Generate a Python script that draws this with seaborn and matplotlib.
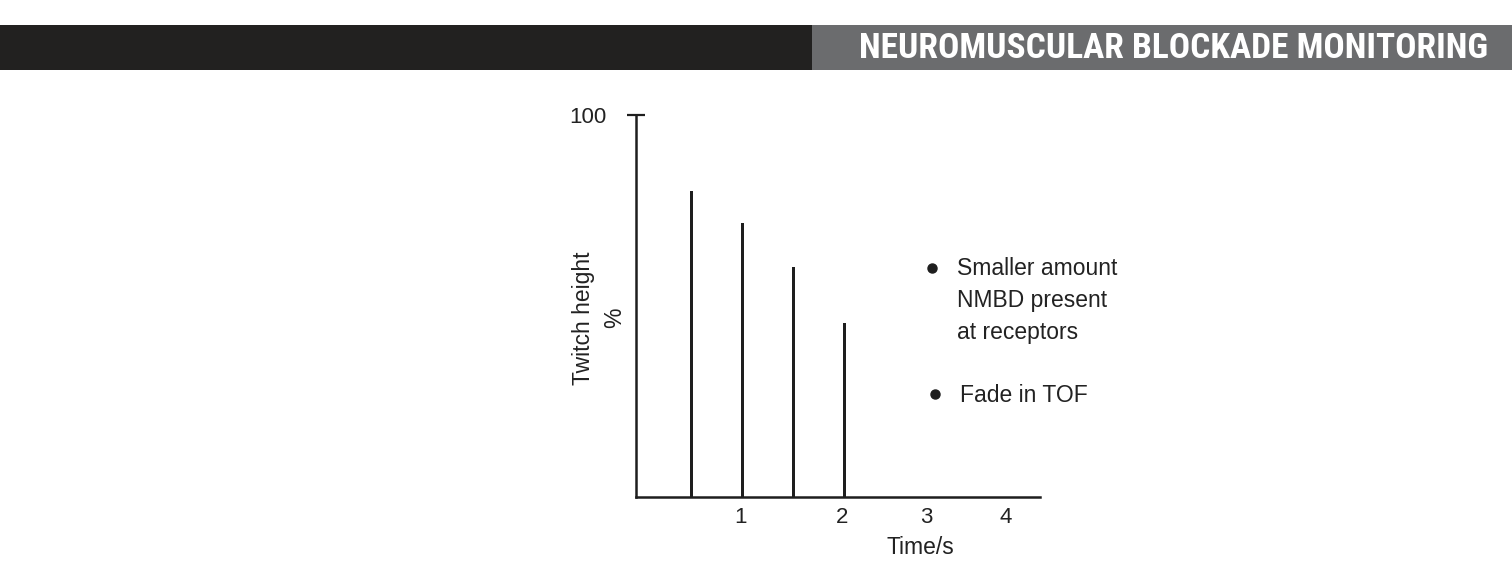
import matplotlib
matplotlib.use("Agg")
import matplotlib.pyplot as plt
from matplotlib.patches import Rectangle
from matplotlib.lines import Line2D
from matplotlib import font_manager
import seaborn as sns
import pandas as pd

# ---- data ----
stimulus_time = [0.5, 1.0, 1.5, 2.0]
twitch_height = [80.0, 71.7, 60.2, 45.5]
xtick_positions = [0.98, 1.97, 2.79, 3.57]
xtick_labels = ["1", "2", "3", "4"]
ytick_positions = [100]
ytick_labels = ["100"]
title = "NEUROMUSCULAR BLOCKADE MONITORING"
bullet_1 = "Smaller amount\nNMBD present\nat receptors"
bullet_2 = "Fade in TOF"
x_label = "Time/s"
y_label = "Twitch height\n%"

sns.set_theme(style="white")
plt.rcParams["font.family"] = ["Liberation Sans", "DejaVu Sans"]

# pick a condensed font for the header if one is installed
fonts = font_manager.fontManager.ttflist
names = {f.name for f in fonts}
title_kw = dict(family=["DejaVu Sans"], fontstretch="condensed")
for cand in ["Roboto Condensed", "Liberation Sans Narrow", "Open Sans Condensed",
             "DejaVu Sans Condensed", "Noto Sans Condensed",
             "Noto Sans Display Condensed"]:
    if cand in names:
        title_kw = dict(family=[cand, "DejaVu Sans"])
        break
else:
    cond = [f for f in fonts if str(f.stretch) in ("condensed", "semi-condensed",
                                                  "extra-condensed", "ultra-condensed")
            or (isinstance(f.stretch, int) and f.stretch < 500)]
    if cond:
        title_kw = dict(family=[cond[0].name, "DejaVu Sans"],
                        fontstretch=cond[0].stretch)

W, H = 1512, 575
fig = plt.figure(figsize=(W / 100, H / 100), dpi=100)
fig.patch.set_facecolor("white")

def fx(px):
    return px / W

def fy(py):
    return (H - py) / H

# header bar
fig.add_artist(Rectangle((0, fy(70)), fx(812), (70 - 25) / H,
                         transform=fig.transFigure, color="#222120", lw=0))
fig.add_artist(Rectangle((fx(812), fy(70)), fx(W - 812), (70 - 25) / H,
                         transform=fig.transFigure, color="#6b6c6e", lw=0))
fig.text(fx(1488), fy(48), title, ha="right", va="center", color="white",
         fontsize=25.5, fontweight="bold", **title_kw)

# axes
ax = fig.add_axes([fx(636), fy(497), (1040 - 636) / W, (497 - 115) / H])
df = pd.DataFrame({"t": stimulus_time, "h": twitch_height})
sns.barplot(data=df, x="t", y="h", native_scale=True, width=0.058,
            color="#1e1e1e", saturation=1, ax=ax, errorbar=None,
            edgecolor="none")

ax.set_xlim(-0.036, 3.90)
ax.set_ylim(0, 100)
for s in ["top", "right"]:
    ax.spines[s].set_visible(False)
for s in ["left", "bottom"]:
    ax.spines[s].set_linewidth(1.8)
    ax.spines[s].set_color("#1e1e1e")

ax.set_xticks(xtick_positions)
ax.set_xticklabels(xtick_labels)
ax.set_yticks(ytick_positions)
ax.set_yticklabels(ytick_labels)
ax.tick_params(axis="x", length=0, pad=7, labelsize=16, labelcolor="#222")
ax.tick_params(axis="y", direction="inout", length=13, width=1.6,
               color="#1e1e1e", pad=15, labelsize=16, labelcolor="#222")
ax.tick_params(left=True, bottom=False)

ax.set_xlabel(x_label, fontsize=16.5, color="#222", va="center")
ax.xaxis.set_label_coords((920 - 636) / 404, (497 - 548) / 382)
ax.set_ylabel(y_label, fontsize=16.5, color="#222", va="center",
              linespacing=1.42)
ax.yaxis.set_label_coords((599 - 636) / 404, (497 - 318) / 382)
ax.set_facecolor("none")

# bullets
for (bx, by) in [(932, 268), (935, 394)]:
    fig.add_artist(Line2D([fx(bx)], [fy(by)], marker="o", ms=6.5,
                          color="#1e1e1e", transform=fig.transFigure))
fig.text(fx(957), fy(300.5), bullet_1, ha="left", va="center", fontsize=16.5,
         color="#222", linespacing=1.48)
fig.text(fx(960), fy(396), bullet_2, ha="left", va="center", fontsize=16.5,
         color="#222")

fig.savefig("out.png", dpi=100)
